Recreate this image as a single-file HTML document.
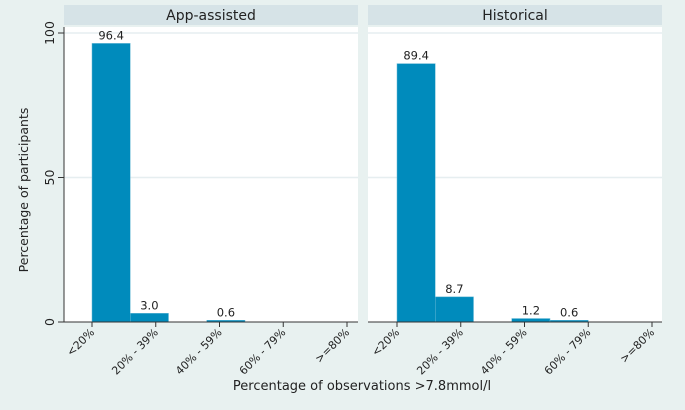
<!DOCTYPE html>
<html><head><meta charset="utf-8"><style>
body{margin:0;background:#e8f1f0;}
svg{display:block;font-family:"DejaVu Sans","Liberation Sans",sans-serif;}
</style></head><body>
<svg width="685" height="410" id="c">
<rect width="685" height="410" fill="#e8f1f0"/>
<text x="362" y="390" font-size="13" text-anchor="middle" fill="#222">Percentage of observations &gt;7.8mmol/l</text>
<text transform="translate(28,190) rotate(-90)" font-size="12.5" text-anchor="middle" fill="#222">Percentage of participants</text>
</svg>
<script>
const panels=["App-assisted","Historical"];
const categories=["<20%","20% - 39%","40% - 59%","60% - 79%",">=80%"];
const yTicks=[0,50,100];
const binStarts=[[0,0.6,1.8],[0,0.6,1.8,2.4]];
const binValues=[[96.4,3.0,0.6],[89.4,8.7,1.2,0.6]];
const binLabels=[["96.4","3.0","0.6"],["89.4","8.7","1.2","0.6"]];
const binWidth=0.6;
const svg=document.getElementById('c');
const NS='http://www.w3.org/2000/svg';
function mk(t,a,p){const e=document.createElementNS(NS,t);for(const k in a)e.setAttribute(k,a[k]);(p||svg).appendChild(e);return e;}
const y=v=>322-v*2.89;
panels.forEach((name,p)=>{
  const x0=p?368:64, x1=p?662:358;
  const tick0=p?397:92, step=63.75;
  const x=v=>tick0+v*step;
  const g=mk('g',{});
  
  
  const strip=mk('rect',{x:x0,y:5,width:x1-x0,height:20,fill:'#d6e3e7'},g);
  
  
  const t=mk('text',{x:(x0+x1)/2,y:20,'font-size':14,'text-anchor':'middle',fill:'#222'},g);t.textContent=name;
  
  
  const pa=mk('rect',{x:x0,y:27,width:x1-x0,height:295,fill:'#fff'},g);
  
  
  yTicks.forEach(v=>{if(v>0){const l=mk('line',{x1:x0,x2:x1,y1:y(v),y2:y(v),stroke:'#e6eef0','stroke-width':1.5},g);
    
    }});
  binStarts[p].forEach((s,i)=>{
    const r=mk('rect',{x:x(s),y:y(binValues[p][i]),width:binWidth*step,height:322-y(binValues[p][i]),fill:'#008bbc',stroke:'#66b8d6','stroke-width':0.5},g);
    
    
    const lt=mk('text',{x:x(s+binWidth/2),y:y(binValues[p][i])-4,'font-size':11.5,'text-anchor':'middle',fill:'#222'},g);lt.textContent=binLabels[p][i];
    
    
  });
  const ax=mk('line',{x1:p?368:58,x2:x1,y1:322,y2:322,stroke:'#333','stroke-width':1},g);
  
  
  categories.forEach((c,i)=>{
    const tx=x(i);
    mk('line',{x1:tx,x2:tx,y1:322,y2:327,stroke:'#333'},g);
    const tl=mk('text',{'font-size':11,'text-anchor':'end',fill:'#222',transform:`translate(${tx+3},${333}) rotate(-45)`},g);tl.textContent=c;
    
    
  });
  if(p===0){
    const ya=mk('line',{x1:64,x2:64,y1:27,y2:322,stroke:'#333'},g);
    
    
    yTicks.forEach(v=>{mk('line',{x1:58,x2:64,y1:y(v),y2:y(v),stroke:'#333'},g);
      const yl=mk('text',{'font-size':12.5,'text-anchor':'middle',fill:'#222',transform:`translate(54,${y(v)}) rotate(-90)`},g);yl.textContent=v;
      
      });
  }
});
</script>
</body></html>
